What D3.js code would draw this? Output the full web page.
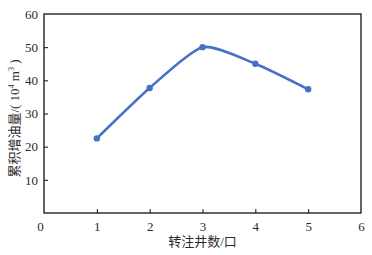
<!DOCTYPE html>
<html>
<head>
<meta charset="utf-8">
<script src="https://cdn.jsdelivr.net/npm/d3@7/dist/d3.min.js"></script>
<style>
body{margin:0;background:#fff}
text{font-family:"Liberation Serif","Noto Sans CJK SC",serif;fill:#2a2a2a}
</style>
</head>
<body>
<div id="chart"></div>
<script>
var wells = [1, 2, 3, 4, 5]
var oilGain = [22.5, 37.7, 50, 45, 37.3]
var xTicks = [0, 1, 2, 3, 4, 5, 6]
var yTicks = [10, 20, 30, 40, 50, 60]

var width = 372, height = 255
var m = {left: 44, top: 14, right: 11, bottom: 42}

var svg = d3.select("#chart").append("svg").attr("width", width).attr("height", height)

var x = d3.scaleLinear().domain([0, 6]).range([m.left, width - m.right])
var y = d3.scaleLinear().domain([0, 60]).range([height - m.bottom, m.top])

// frame
svg.append("rect")
    .attr("x", x(0)).attr("y", y(60))
    .attr("width", x(6) - x(0)).attr("height", y(0) - y(60))
    .attr("fill", "none").attr("stroke", "#111").attr("stroke-width", 1.3)

var xAxis = svg.append("g")
    .attr("transform", "translate(0," + y(0) + ")")
    .call(d3.axisBottom(x).tickValues(xTicks).tickSize(-4).tickPadding(9).tickFormat(d3.format("d")))
xAxis.select(".domain").remove()
xAxis.selectAll("line").attr("stroke", "#111")
xAxis.selectAll("text").style("font-size", "13px").attr("fill", "#2a2a2a")
xAxis.selectAll(".tick").filter(function(d){ return d == 0 || d == 6 }).select("line").remove()
xAxis.selectAll(".tick").filter(function(d){ return d == 0 }).select("text").attr("dx", "-4")

var yAxis = svg.append("g")
    .attr("transform", "translate(" + x(0) + ",0)")
    .call(d3.axisLeft(y).tickValues(yTicks).tickSize(-4).tickPadding(6).tickFormat(d3.format("d")))
yAxis.select(".domain").remove()
yAxis.selectAll("line").attr("stroke", "#111")
yAxis.selectAll("text").style("font-size", "13px").attr("fill", "#2a2a2a")
yAxis.selectAll(".tick").filter(function(d){ return d == 60 }).select("line").remove()

// axis titles
svg.append("text")
    .attr("x", (x(0) + x(6)) / 2).attr("y", 246)
    .attr("text-anchor", "middle")
    .style("font-size", "13px")
    .text("转注井数/口")

var yt = svg.append("text")
    .attr("transform", "translate(19," + ((y(0) + y(60)) / 2 + 5) + ") rotate(-90)")
    .attr("text-anchor", "middle")
    .style("font-size", "13px")
    .attr("fill", "#444")
yt.append("tspan").text("累积增油量/( 10")
yt.append("tspan").attr("dy", -5).style("font-size", "8px").text("4")
yt.append("tspan").attr("dy", 5).text(" m")
yt.append("tspan").attr("dy", -5).style("font-size", "8px").text("3")
yt.append("tspan").attr("dy", 5).text(" )")

var pts = wells.map(function(w, i){ return [w, oilGain[i]] })

var line = d3.line()
    .x(function(d){ return x(d[0]) })
    .y(function(d){ return y(d[1]) })
    .curve(d3.curveCardinal.tension(0.35))

svg.append("path")
    .datum(pts)
    .attr("d", line)
    .attr("fill", "none")
    .attr("stroke", "#4472c4")
    .attr("stroke-width", 2.5)

svg.selectAll("circle")
    .data(pts)
    .enter().append("circle")
    .attr("cx", function(d){ return x(d[0]) })
    .attr("cy", function(d){ return y(d[1]) })
    .attr("r", 3.2)
    .attr("fill", "#4472c4")
</script>
</body>
</html>
